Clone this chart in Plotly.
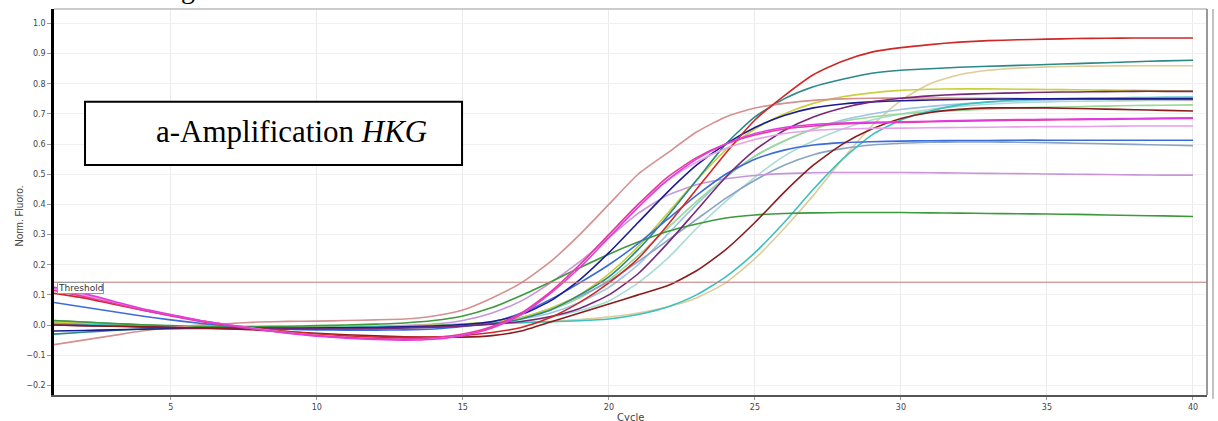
import plotly.graph_objects as go

CYCLES = list(range(1, 41))
THRESHOLD = 0.142
X_TICKS = [5, 10, 15, 20, 25, 30, 35, 40]

rose = [-0.065, -0.05, -0.035, -0.02, -0.008, 0.0, 0.005, 0.01, 0.012, 0.013, 0.015, 0.017, 0.02,
        0.03, 0.05, 0.09, 0.14, 0.21, 0.30, 0.40, 0.50, 0.57, 0.64, 0.69, 0.72, 0.735,
        0.745, 0.75, 0.752, 0.753, 0.753, 0.752, 0.752, 0.751, 0.75, 0.75, 0.749, 0.748, 0.748, 0.747]
magenta = [0.125, 0.105, 0.08, 0.055, 0.035, 0.015, 0.0, -0.015, -0.027, -0.037, -0.044, -0.048, -0.05, -0.047, -0.035,
           -0.01, 0.035, 0.105, 0.19, 0.29, 0.39, 0.48, 0.55, 0.60, 0.635, 0.655, 0.665, 0.67,
           0.672, 0.674, 0.676, 0.678, 0.68, 0.681, 0.682, 0.683, 0.684, 0.685, 0.686, 0.687]
pink_light = [0.12, 0.1, 0.077, 0.053, 0.033, 0.014, 0.0, -0.013, -0.025, -0.034, -0.041, -0.045, -0.047, -0.044, -0.032,
              -0.008, 0.035, 0.11, 0.2, 0.3, 0.4, 0.48, 0.54, 0.585, 0.615, 0.635, 0.645, 0.65,
              0.652, 0.653, 0.654, 0.655, 0.656, 0.657, 0.658, 0.658, 0.659, 0.66, 0.66, 0.66]
hot_pink = [0.115, 0.095, 0.073, 0.05, 0.03, 0.012, -0.002, -0.015, -0.026, -0.035, -0.041, -0.045, -0.046, -0.042, -0.03,
            -0.005, 0.04, 0.11, 0.2, 0.3, 0.4, 0.49, 0.555, 0.6, 0.63, 0.65, 0.66, 0.667,
            0.67, 0.672, 0.674, 0.676, 0.678, 0.679, 0.68, 0.681, 0.682, 0.683, 0.684, 0.685]
crimson = [0.105, 0.09, 0.07, 0.05, 0.032, 0.015, 0.0, -0.012, -0.022, -0.03, -0.036, -0.04, -0.041, -0.04, -0.035,
           -0.025, -0.008, 0.025, 0.075, 0.14, 0.22, 0.33, 0.45, 0.57, 0.68, 0.76, 0.83, 0.875,
           0.905, 0.92, 0.93, 0.938, 0.943, 0.946, 0.948, 0.95, 0.951, 0.952, 0.952, 0.952]
maroon = [0.0, -0.002, -0.004, -0.006, -0.008, -0.01, -0.013, -0.017, -0.022, -0.027, -0.032, -0.036, -0.039, -0.04, -0.04,
          -0.035, -0.02, 0.01, 0.04, 0.07, 0.1, 0.13, 0.18, 0.25, 0.34, 0.44, 0.53, 0.6,
          0.65, 0.685, 0.705, 0.715, 0.72, 0.72, 0.72, 0.718, 0.716, 0.714, 0.712, 0.71]
turquoise = [0.005, 0.002, 0.0, -0.002, -0.004, -0.006, -0.007, -0.008, -0.008, -0.008, -0.007, -0.006, -0.004, -0.002, 0.0,
             0.004, 0.008, 0.011, 0.014, 0.02, 0.035, 0.06, 0.1, 0.16, 0.24, 0.34, 0.45, 0.55,
             0.63, 0.68, 0.71, 0.73, 0.74, 0.747, 0.75, 0.752, 0.753, 0.754, 0.755, 0.755]
tan = [0.012, 0.008, 0.004, 0.0, -0.003, -0.005, -0.006, -0.006, -0.006, -0.005, -0.004, -0.003, -0.002, 0.0, 0.002,
       0.005, 0.008, 0.012, 0.018, 0.027, 0.04, 0.06, 0.09, 0.14, 0.22, 0.32, 0.43, 0.55,
       0.66, 0.745, 0.8, 0.83, 0.845, 0.852, 0.856, 0.858, 0.859, 0.86, 0.86, 0.86]
dark_teal = [-0.03, -0.024, -0.018, -0.013, -0.01, -0.009, -0.009, -0.009, -0.01, -0.01, -0.01, -0.01, -0.009, -0.007, -0.003,
             0.005, 0.02, 0.05, 0.1, 0.16, 0.25, 0.36, 0.48, 0.6, 0.69, 0.75, 0.79, 0.815,
             0.835, 0.845, 0.85, 0.855, 0.858, 0.861, 0.864, 0.867, 0.87, 0.873, 0.876, 0.878]
yellow_green = [0.01, 0.006, 0.002, -0.002, -0.005, -0.007, -0.008, -0.008, -0.008, -0.007, -0.006, -0.005, -0.003, 0.0, 0.004,
                0.01, 0.025, 0.055, 0.1, 0.17, 0.26, 0.37, 0.48, 0.58, 0.65, 0.7, 0.735, 0.757,
                0.77, 0.778, 0.782, 0.783, 0.783, 0.782, 0.781, 0.78, 0.779, 0.778, 0.777, 0.776]
navy = [-0.02, -0.018, -0.016, -0.014, -0.012, -0.011, -0.011, -0.011, -0.011, -0.01, -0.009, -0.008, -0.006, -0.003, 0.002,
        0.012, 0.035, 0.08, 0.15, 0.24, 0.34, 0.44, 0.53, 0.6, 0.655, 0.695, 0.72, 0.733,
        0.74, 0.744, 0.746, 0.748, 0.749, 0.75, 0.75, 0.75, 0.75, 0.75, 0.75, 0.75]
dark_purple = [0.0, -0.002, -0.004, -0.006, -0.008, -0.01, -0.011, -0.012, -0.013, -0.013, -0.013, -0.012, -0.01, -0.007, -0.003,
               0.003, 0.012, 0.028, 0.055, 0.1, 0.17, 0.27, 0.38, 0.49, 0.58, 0.645, 0.69, 0.72,
               0.74, 0.752, 0.76, 0.765, 0.768, 0.77, 0.772, 0.773, 0.774, 0.775, 0.775, 0.775]
light_green = [0.015, 0.01, 0.005, 0.001, -0.003, -0.006, -0.008, -0.009, -0.009, -0.009, -0.008, -0.007, -0.005, -0.002, 0.003,
               0.01, 0.025, 0.05, 0.09, 0.15, 0.23, 0.32, 0.41, 0.49, 0.56, 0.61, 0.65, 0.675,
               0.69, 0.7, 0.707, 0.712, 0.716, 0.72, 0.722, 0.724, 0.726, 0.728, 0.729, 0.73]
light_cyan = [0.012, 0.008, 0.004, 0.0, -0.003, -0.005, -0.006, -0.007, -0.007, -0.007, -0.006, -0.005, -0.004, -0.002, 0.0,
              0.005, 0.012, 0.025, 0.048, 0.08, 0.14, 0.22, 0.32, 0.41, 0.49, 0.56, 0.61, 0.65,
              0.68, 0.7, 0.715, 0.725, 0.732, 0.737, 0.74, 0.742, 0.743, 0.744, 0.745, 0.745]
steel_blue = [0.008, 0.004, 0.0, -0.003, -0.006, -0.008, -0.009, -0.01, -0.01, -0.01, -0.009, -0.008, -0.006, -0.003, 0.001,
              0.008, 0.02, 0.04, 0.075, 0.125, 0.2, 0.3, 0.4, 0.49, 0.56, 0.61, 0.65, 0.68,
              0.7, 0.715, 0.725, 0.733, 0.739, 0.743, 0.746, 0.749, 0.751, 0.753, 0.754, 0.755]
blue = [0.075, 0.06, 0.045, 0.03, 0.017, 0.006, -0.003, -0.01, -0.014, -0.016, -0.017, -0.017, -0.016, -0.013, -0.005,
        0.01, 0.04, 0.085, 0.14, 0.2, 0.27, 0.35, 0.43, 0.5, 0.55, 0.58, 0.597, 0.605,
        0.608, 0.61, 0.611, 0.612, 0.612, 0.613, 0.613, 0.613, 0.613, 0.613, 0.613, 0.613]
blue_gray = [0.014, 0.01, 0.005, 0.0, -0.004, -0.007, -0.009, -0.01, -0.011, -0.011, -0.011, -0.01, -0.008, -0.005, 0.0,
             0.008, 0.025, 0.055, 0.095, 0.145, 0.21, 0.28, 0.35, 0.42, 0.48, 0.53, 0.565, 0.585,
             0.597, 0.603, 0.606, 0.607, 0.607, 0.606, 0.605, 0.603, 0.601, 0.599, 0.597, 0.595]
light_purple = [0.01, 0.006, 0.002, -0.002, -0.005, -0.007, -0.008, -0.009, -0.009, -0.008, -0.007, -0.005, -0.002, 0.003, 0.015,
                0.04, 0.08, 0.14, 0.21, 0.29, 0.37, 0.43, 0.465, 0.485, 0.496, 0.502, 0.505, 0.506,
                0.506, 0.506, 0.505, 0.504, 0.503, 0.502, 0.501, 0.5, 0.499, 0.498, 0.497, 0.497]
green = [0.015, 0.01, 0.005, 0.001, -0.002, -0.004, -0.005, -0.005, -0.004, -0.002, 0.0, 0.003, 0.007, 0.015, 0.03,
         0.058, 0.098, 0.143, 0.19, 0.235, 0.275, 0.31, 0.335, 0.355, 0.365, 0.37, 0.372, 0.373,
         0.373, 0.373, 0.372, 0.371, 0.37, 0.369, 0.368, 0.367, 0.365, 0.363, 0.362, 0.36]

SERIES = [
    ("tan", "#e0cc98", tan),
    ("light cyan", "#a8dcd4", light_cyan),
    ("steel blue", "#9cc4e4", steel_blue),
    ("light green", "#98d898", light_green),
    ("blue gray", "#8aa4c4", blue_gray),
    ("light purple", "#c896d8", light_purple),
    ("yellow green", "#c8d03c", yellow_green),
    ("turquoise", "#3cc0c0", turquoise),
    ("green", "#3c9a3c", green),
    ("dark teal", "#2a8888", dark_teal),
    ("rose", "#d4918f", rose),
    ("blue", "#3c6cd8", blue),
    ("navy", "#1c1c90", navy),
    ("dark purple", "#782878", dark_purple),
    ("maroon", "#8a1c1c", maroon),
    ("crimson", "#d02828", crimson),
    ("pink light", "#e8a0e8", pink_light),
    ("hot pink", "#e43c9c", hot_pink),
    ("magenta", "#e03ce0", magenta),
]

fig = go.Figure()
for name, color, vals in SERIES:
    fig.add_trace(go.Scatter(
        x=CYCLES[:len(vals)], y=vals, mode="lines", name=name,
        line=dict(color=color, width=1.6, shape="spline", smoothing=0.6),
        showlegend=False, hoverinfo="skip"))

tick_font = dict(family="DejaVu Sans", size=8, color="#444444")

fig.update_layout(
    width=1218, height=421,
    margin=dict(l=54, r=11, t=9, b=16),
    paper_bgcolor="white", plot_bgcolor="white",
    xaxis=dict(range=[1, 40.48], tickvals=X_TICKS, ticktext=[str(v) for v in X_TICKS],
               showgrid=True, gridcolor="#ebebeb", gridwidth=1, zeroline=False,
               showline=True, linecolor="#555555", linewidth=2,
               ticks="outside", ticklen=3, tickcolor="#999999", tickfont=tick_font),
    yaxis=dict(range=[-0.232, 1.048], dtick=0.1, tick0=0, tickformat=".1f",
               showgrid=True, gridcolor="#f0f0f0", gridwidth=1, zeroline=False,
               showline=True, linecolor="#000000", linewidth=2.5,
               ticks="outside", ticklen=4, tickcolor="#999999", tickfont=tick_font),
    shapes=[
        dict(type="line", xref="x", yref="y", x0=1, x1=40.48, y0=THRESHOLD, y1=THRESHOLD,
             line=dict(color="#c07878", width=1), layer="above"),
        dict(type="line", xref="paper", yref="paper", x0=0, x1=1, y0=1, y1=1,
             line=dict(color="#999999", width=1.2)),
        dict(type="line", xref="paper", yref="paper", x0=1, x1=1, y0=0, y1=1,
             line=dict(color="#777777", width=1.5)),
        dict(type="line", xref="paper", yref="paper", x0=1.0052, x1=1.0052, y0=-0.01, y1=1.0,
             line=dict(color="#999999", width=1.2)),
        dict(type="rect", xref="paper", yref="paper", x0=0.0269, x1=0.3539, y0=0.596, y1=0.760,
             line=dict(color="black", width=2), fillcolor="white", layer="above"),
    ],
    annotations=[
        dict(text="a-Amplification <i>HKG</i>", xref="paper", yref="paper", x=0.0867, y=0.683,
             xanchor="left", yanchor="middle", showarrow=False,
             font=dict(family="Liberation Serif", size=31, color="black")),
        dict(text="Threshold", xref="paper", yref="y", x=0.0026, y=THRESHOLD,
             xanchor="left", yanchor="top", yshift=0, showarrow=False,
             font=dict(family="DejaVu Sans", size=9, color="#333333"),
             bordercolor="#999999", borderwidth=1, borderpad=0, bgcolor="white"),
        dict(text="Norm. Fluoro.", xref="paper", yref="paper", x=-0.0295, y=0.465,
             xanchor="center", yanchor="middle", textangle=-90, showarrow=False,
             font=dict(family="Liberation Sans Narrow, Liberation Sans", size=10, color="#444444")),
        dict(text="Cycle", xref="paper", yref="paper", x=0.5, y=-0.04,
             xanchor="center", yanchor="top", showarrow=False,
             font=dict(family="DejaVu Sans", size=10, color="#444444")),
        dict(text="g", xref="paper", yref="paper", x=0.116, y=1.052,
             xanchor="center", yanchor="middle", showarrow=False,
             font=dict(family="Liberation Serif", size=28, color="black")),
    ],
)

fig.write_html("out.html")
